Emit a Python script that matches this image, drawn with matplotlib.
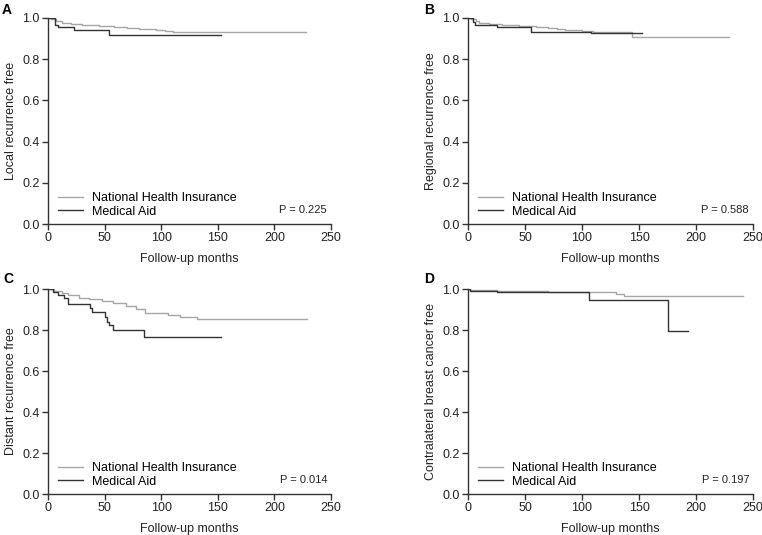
import matplotlib
matplotlib.use('Agg')
import matplotlib.pyplot as plt

plt.rcParams['font.family'] = ['Liberation Sans', 'DejaVu Sans']

# Kaplan-Meier step data (months, survival)
# A: local recurrence free
a_nhi_t = [0, 3, 7, 12, 20, 30, 45, 58, 70, 80, 95, 103, 110, 228]
a_nhi_s = [1.0, 0.995, 0.985, 0.978, 0.972, 0.968, 0.963, 0.958, 0.952, 0.945, 0.94, 0.935, 0.93, 0.93]
a_ma_t = [0, 6, 9, 23, 54, 153]
a_ma_s = [1.0, 0.966, 0.955, 0.94, 0.917, 0.917]

# B: regional recurrence free
b_nhi_t = [0, 3, 7, 10, 18, 30, 45, 60, 70, 78, 85, 100, 110, 144, 229]
b_nhi_s = [1.0, 0.995, 0.985, 0.975, 0.97, 0.965, 0.96, 0.955, 0.95, 0.945, 0.94, 0.935, 0.93, 0.906, 0.906]
b_ma_t = [0, 4, 6, 25, 55, 108, 153]
b_ma_s = [1.0, 0.98, 0.965, 0.955, 0.93, 0.928, 0.928]

# C: distant recurrence free
c_nhi_t = [0, 5, 12, 18, 27, 36, 48, 57, 69, 78, 86, 106, 117, 132, 229]
c_nhi_s = [1.0, 0.99, 0.982, 0.972, 0.958, 0.95, 0.94, 0.93, 0.918, 0.902, 0.883, 0.874, 0.865, 0.852, 0.852]
c_ma_t = [0, 4, 9, 14, 18, 37, 39, 50, 52, 54, 57, 85, 153]
c_ma_s = [1.0, 0.985, 0.97, 0.955, 0.928, 0.905, 0.888, 0.863, 0.839, 0.823, 0.798, 0.766, 0.766]

# D: contralateral breast cancer free
d_nhi_t = [0, 2, 25, 50, 70, 105, 130, 134, 137, 241]
d_nhi_s = [1.0, 0.995, 0.99, 0.988, 0.985, 0.983, 0.978, 0.975, 0.968, 0.968]
d_ma_t = [0, 2, 25, 70, 106, 175, 193]
d_ma_s = [1.0, 0.99, 0.987, 0.983, 0.948, 0.793, 0.793]

panels = [
    ('A', 'Local recurrence free', a_nhi_t, a_nhi_s, a_ma_t, a_ma_s, 'P = 0.225'),
    ('B', 'Regional recurrence free', b_nhi_t, b_nhi_s, b_ma_t, b_ma_s, 'P = 0.588'),
    ('C', 'Distant recurrence free', c_nhi_t, c_nhi_s, c_ma_t, c_ma_s, 'P = 0.014'),
    ('D', 'Contralateral breast cancer free', d_nhi_t, d_nhi_s, d_ma_t, d_ma_s, 'P = 0.197'),
]

positions = [
    [0.063, 0.5813, 0.3714, 0.3851],
    [0.6142, 0.5813, 0.3740, 0.3851],
    [0.063, 0.0766, 0.3714, 0.3832],
    [0.6142, 0.0766, 0.3740, 0.3832],
]
letter_pos = [(0.002, 0.995), (0.557, 0.995), (0.004, 0.492), (0.557, 0.492)]

fig = plt.figure(figsize=(7.62, 5.35), dpi=100)

for (letter, ylab, t1, s1, t2, s2, ptxt), pos, lp in zip(panels, positions, letter_pos):
    ax = fig.add_axes(pos)
    ax.step(t1, s1, where='post', color='#a6a6a6', lw=1.0, label='National Health Insurance')
    ax.step(t2, s2, where='post', color='#333333', lw=1.0, label='Medical Aid')
    ax.set_xlim(0, 250)
    ax.set_ylim(0, 1.0)
    ax.set_xticks([0, 50, 100, 150, 200, 250])
    ax.set_yticks([0.0, 0.2, 0.4, 0.6, 0.8, 1.0])
    ax.set_yticklabels(['0.0', '0.2', '0.4', '0.6', '0.8', '1.0'])
    for side in ['top', 'right']:
        ax.spines[side].set_visible(False)
    for side in ['left', 'bottom']:
        ax.spines[side].set_color('#333333')
        ax.spines[side].set_linewidth(1.0)
    ax.tick_params(direction='out', length=4, width=1, color='#333333',
                   labelsize=9, labelcolor='#222222', pad=2)
    ax.set_xlabel('Follow-up months', fontsize=9, color='#222222', labelpad=6)
    ax.set_ylabel(ylab, fontsize=9, color='#222222', labelpad=4)
    ax.legend(loc='lower left', bbox_to_anchor=(0.035, 0.03), frameon=False,
              fontsize=9, handlelength=2.0, handletextpad=0.7,
              labelspacing=0.15, borderpad=0, borderaxespad=0)
    ax.text(0.986, 0.068, ptxt, transform=ax.transAxes, ha='right', va='center',
            fontsize=8, color='#222222')
    fig.text(lp[0], lp[1], letter, fontsize=10, fontweight='bold', va='top', ha='left')

fig.savefig('out.png', dpi=100)
